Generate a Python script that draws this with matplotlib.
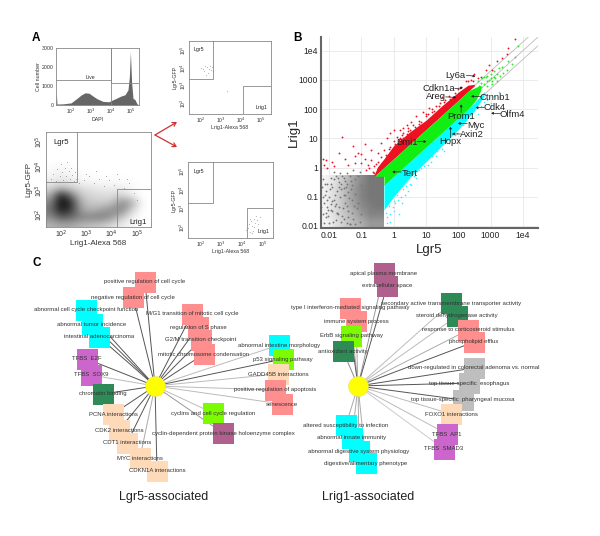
import matplotlib
matplotlib.use('Agg')
import matplotlib.pyplot as plt
from matplotlib.colors import LinearSegmentedColormap

plt.rcParams['font.family'] = ['Liberation Sans', 'DejaVu Sans']

W, H = 600, 536

# panel A histogram
hist_x = [1.25, 1.27, 1.30, 1.6, 2.0, 2.3, 2.5, 2.7, 2.9, 3.1, 3.3, 3.6, 3.9, 4.0, 4.2, 4.5, 4.7, 4.85, 4.92, 4.97, 5.03, 5.1, 5.2, 5.3, 5.4]
hist_y = [600, 500, 50, 60, 110, 350, 520, 640, 620, 470, 330, 190, 170, 230, 320, 470, 540, 800, 1500, 2800, 1200, 350, 280, 60, 0]

# panel A main density, rows bottom to top
dens_x = [1.6, 2.0, 2.4, 2.8, 3.2, 3.6, 4.0, 4.4, 4.8, 5.2]
dens_y = [1.6, 1.9, 2.2, 2.5, 2.8, 3.1, 3.4, 3.7, 4.0, 4.3]
dens = [[.30, .35, .35, .28, .25, .22, .15, .08, .03, 0],
        [.45, .65, .60, .50, .50, .52, .42, .22, .06, 0],
        [.55, .92, .78, .38, .30, .38, .45, .50, .18, 0],
        [.48, 1.0, .85, .30, .22, .20, .24, .45, .36, .01],
        [.32, .90, .55, .22, .17, .14, .14, .18, .07, 0],
        [.16, .28, .20, .13, .10, .08, .07, .07, .03, 0],
        [.07, .10, .08, .04, .03, .02, .02, .02, .01, 0],
        [.03, .07, .03, .01, .01, 0, 0, 0, 0, 0],
        [.01, .03, .01, 0, 0, 0, 0, 0, 0, 0],
        [0, 0, 0, 0, 0, 0, 0, 0, 0, 0]]
dot_x = [1.6, 1.7, 1.8, 1.85, 1.95, 2.0, 2.05, 2.1, 2.15, 2.2, 2.25, 2.3, 2.35, 2.4, 2.45, 2.5, 2.55, 2.6, 2.7, 2.9, 3.1, 3.3, 3.5, 3.7, 3.9, 4.1, 4.3, 4.5, 4.7, 4.9, 3.0, 3.4, 3.8, 4.2, 4.6, 5.0]
dot_y = [3.5, 3.7, 3.4, 3.9, 3.6, 4.1, 3.75, 3.45, 3.95, 3.6, 4.2, 3.8, 3.5, 3.95, 3.65, 3.4, 3.75, 3.5, 3.3, 3.45, 3.6, 3.3, 3.5, 3.2, 3.45, 3.25, 3.5, 3.1, 3.3, 2.9, 3.7, 3.8, 3.6, 3.7, 3.5, 2.6]

# sorted populations
top_x = [2.0, 2.1, 2.15, 2.2, 2.3, 2.35, 2.4, 2.45, 2.5, 2.55, 2.6, 2.25, 3.3]
top_y = [4.0, 3.95, 3.8, 4.1, 4.05, 3.7, 3.9, 4.1, 3.85, 4.05, 3.8, 3.6, 2.7]
bot_x = [4.2, 4.3, 4.35, 4.4, 4.45, 4.5, 4.55, 4.6, 4.65, 4.7, 4.75, 4.8, 4.5, 4.4, 4.6, 4.85]
bot_y = [1.85, 1.95, 2.15, 1.75, 2.3, 2.05, 1.8, 2.4, 2.2, 2.6, 2.35, 2.15, 1.65, 2.45, 2.0, 2.55]

# panel B, log10 values
band_x = [-0.6, -0.3, -0.3, 0, 0.5, 1, 1.5, 2, 2.3, 2.55, 2.7]
green_hi = [-0.3, 0.0, 0.0, 0.3, 0.8, 1.3, 1.8, 2.3, 2.62, 2.75, 2.82]
green_lo = [-0.3, -0.3, -0.6, -0.3, 0.2, 0.7, 1.2, 1.7, 2.0, 2.32, 2.65]
red_x = [-0.62, -0.5, -0.3, 0, 0.5, 1, 1.5, 2, 2.3, 2.5]
red_hi = [-0.3, 0.02, 0.3, 0.75, 1.22, 1.62, 2.12, 2.58, 2.82, 2.85]
red_lo = [-0.3, -0.2, 0.0, 0.3, 0.8, 1.3, 1.8, 2.3, 2.6, 2.8]
cyan_x = [-0.3, 0, 0.5, 1, 1.5, 2, 2.5, 2.8]
cyan_hi = [-0.6, -0.3, 0.2, 0.7, 1.2, 1.7, 2.2, 2.6]
cyan_lo = [-1.45, -1.0, -0.35, 0.2, 0.75, 1.3, 1.95, 2.45]

red_pt_x = [-2.2, -2.15, -2.1, -2.05, -1.9, -1.85, -1.7, -1.6, -1.5, -1.4, -1.25, -1.2, -1.2, -1.1, -1.0, -1.0, -0.9, -0.9, -0.8, -0.7, -0.7, -0.6, -0.5, -0.5, -0.4, -0.4, -0.3, -0.3, -0.2, -0.2, -0.1, -0.1, 0, 0, 0.1, 0.1, 0.2, 0.2, 0.3, 0.3, 0.4, 0.4, 0.5, 0.55, 0.6, 0.7, 0.75, 0.8, 0.9, 1.0, 1.1, 1.2, 1.3, 1.45, 1.55, 1.7, 1.85, 2.0, 2.25, 2.4, 2.5, 2.6, 2.7, 2.85, 2.95, 3.05, 3.2, 3.35, 3.5, 3.55, 3.75,
            -0.85, -0.75, -0.65, -0.55, -0.45, -0.35, -0.25, -0.15, -0.05, 0.05, 0.15, 0.25, 0.35, 0.45, 0.65, 0.85, 1.05, 1.25, 1.4, 1.6, 1.75, 1.9, 2.1, 2.3, 2.45,
            -0.6, -0.5, -0.4, -0.3, -0.2, -0.1, 0, 0.1, 0.2, 0.3, 0.45, 0.6, 0.8, 1.0, 1.2, 1.5]
red_pt_y = [0.3, 0.1, 0.25, 0.0, 0.2, 0.05, 0.5, 1.05, 0.3, 0.1, 0.75, 0.15, 0.4, 0.5, 0.45, 0.15, 0.8, 0.3, 0.1, 0.6, 0.25, 0.05, 0.5, 0.2, 0.85, 0.35, 0.6, 0.1, 1.0, 0.4, 1.2, 0.7, 1.3, 0.9, 1.05, 0.65, 1.3, 0.8, 1.0, 1.35, 1.15, 1.45, 1.3, 1.55, 1.2, 1.75, 1.35, 1.6, 1.9, 1.75, 2.05, 1.9, 2.1, 2.2, 2.25, 2.45, 2.4, 2.7, 2.95, 3.0, 3.2, 3.05, 3.1, 3.35, 3.5, 3.35, 3.65, 3.75, 3.9, 4.1, 4.4,
            -0.1, 0.0, -0.15, 0.12, 0.02, 0.15, 0.42, 0.65, 0.55, 0.8, 0.95, 1.1, 0.95, 1.25, 1.4, 1.55, 1.85, 1.95, 2.1, 2.3, 2.35, 2.55, 2.75, 2.95, 2.98,
            -0.2, -0.05, 0.1, 0.2, 0.3, 0.5, 0.55, 0.75, 1.0, 1.2, 1.35, 1.45, 1.5, 1.85, 2.0, 2.4]

green_pt_x = [2.6, 2.7, 2.75, 2.8, 2.85, 2.9, 2.95, 3.0, 3.05, 3.1, 3.15, 3.2, 3.25, 3.3, 3.35, 3.4, 3.5, 3.55, 3.65, 3.75, 3.85, 2.65, 2.8, 2.9, 3.0, 3.1, 3.2, 2.72, 2.88, 3.03]
green_pt_y = [2.95, 2.75, 3.05, 2.85, 3.1, 2.8, 3.0, 3.2, 2.95, 3.3, 3.05, 3.2, 3.4, 3.15, 3.45, 3.25, 3.35, 3.65, 3.55, 3.8, 4.15, 2.8, 3.1, 3.15, 3.05, 3.1, 2.95, 2.9, 2.95, 2.85]

cyan_pt_x = [-0.2, -0.15, -0.1, -0.05, 0, 0, 0.1, 0.15, 0.2, 0.25, 0.3, 0.35, 0.4, 0.45, 0.5, 0.55, 0.6, 0.7, 0.75, 0.8, 0.9, 0.95, 1.0, 1.1, 1.15, 1.25, 1.3, 1.4, 1.5, 1.6, 1.7, 1.8, 1.9, 2.0, 2.2, 2.5, 2.7, 2.9, 3.0, 3.1, 3.25, 3.3,
             -0.25, -0.2, -0.12, -0.02, 0.05, 0.12, 0.22, 0.28, 0.38, 0.5, 0.62, 0.72, 0.85, 1.05, 1.2, 1.35, 1.55, 1.75, 1.95, 2.15, 2.35, 2.6, 2.8, 3.0]
cyan_pt_y = [-1.7, -1.3, -1.85, -1.05, -1.5, -1.15, -0.95, -1.6, -0.7, -1.2, -0.55, -0.95, -0.4, -0.8, -0.3, -0.6, -0.1, -0.35, 0.1, -0.1, 0.2, 0.05, 0.3, 0.45, 0.2, 0.55, 0.4, 0.75, 0.65, 1.0, 0.85, 1.25, 1.1, 1.4, 1.6, 1.95, 2.1, 2.3, 2.2, 2.45, 2.6, 2.4,
             -1.55, -1.9, -1.6, -1.35, -1.2, -1.1, -1.0, -0.75, -0.62, -0.55, -0.3, -0.12, 0.0, 0.1, 0.4, 0.55, 0.55, 0.95, 1.2, 1.45, 1.7, 1.85, 2.25, 2.1]

gray_pt_x = [-2.2, -2.15, -2.1, -2.1, -2.05, -2.0, -2.0, -1.95, -1.9, -1.9, -1.85, -1.8, -1.8, -1.75, -1.7, -1.7, -1.65, -1.6, -1.6, -1.55, -1.5, -1.5, -1.45, -1.4, -1.4, -1.35, -1.3, -1.3, -1.25, -1.2, -1.2, -1.15, -1.1, -1.1, -1.05, -1.0, -1.0, -1.95, -1.75, -1.55, -1.35, -1.2, -2.18, -2.05, -1.85, -1.65, -1.45, -1.25, -1.05,
             -2.22, -2.12, -2.02, -1.92, -1.82, -1.72, -1.62, -1.52, -1.42, -1.32, -2.2, -2.08, -1.98, -1.88, -1.78, -1.68, -1.58, -1.48, -1.38, -1.28, -2.16, -2.06, -1.94, -1.84, -1.74, -1.64, -1.54, -1.44, -1.34, -2.24, -2.14, -2.03, -1.93, -1.83, -1.73, -1.63, -1.53, -1.43, -1.33, -1.23]
gray_pt_y = [-0.4, -1.2, -0.8, -1.7, -0.55, -1.0, -1.9, -0.35, -0.65, -1.5, -1.1, -0.3, -1.8, -0.8, -0.5, -1.35, -1.0, -0.3, -1.65, -0.7, -0.45, -1.2, -1.9, -0.85, -1.5, -0.3, -0.6, -1.1, -1.75, -0.4, -0.9, -1.4, -0.3, -1.2, -1.85, -0.6, -1.6, -1.45, -1.55, -0.95, -1.95, -1.95, -1.6, -1.35, -0.15, -0.2, -0.2, -0.1, -0.15,
             -0.65, -0.55, -1.45, -1.15, -0.95, -1.6, -0.55, -0.95, -1.7, -0.45, -1.0, -1.55, -0.75, -1.85, -1.25, -0.65, -1.4, -0.65, -1.05, -1.55, -1.9, -1.1, -1.25, -0.4, -1.55, -0.75, -1.75, -1.3, -1.95, -1.35, -0.95, -1.65, -0.55, -1.3, -0.35, -1.85, -0.35, -0.55, -0.75, -1.3]

# grey cloud density, rows bottom to top
cloud_x = [-2.25, -1.8, -1.5, -1.2, -0.9, -0.6, -0.3]
cloud_y = [-2.05, -1.7, -1.35, -1.0, -0.65, -0.3]
cloud = [[.08, .2, .35, .5, .6, .75, .75],
         [.1, .25, .4, .55, .75, .9, .9],
         [.1, .25, .45, .65, .85, .95, 1],
         [.1, .25, .45, .7, .9, 1, 1],
         [.1, .25, .45, .7, .9, 1, 1],
         [.08, .2, .4, .65, .85, 1, 1]]

gene_names = ['Ly6a', 'Cdkn1a', 'Areg', 'Ctnnb1', 'Cdk4', 'Olfm4', 'Prom1', 'Myc', 'Axin2', 'Hopx', 'Bmi1', 'Tert']
gene_x = [2.53, 2.14, 1.94, 2.40, 2.54, 3.02, 2.09, 1.99, 1.81, 1.76, 1.01, -0.04]
gene_y = [3.125, 2.73, 2.40, 2.44, 2.05, 1.86, 2.16, 1.51, 1.15, 1.40, 0.89, -0.15]
tail_x = [2.25, 1.89, 1.61, 2.71, 2.81, 3.31, 2.09, 2.28, 2.07, 1.76, 0.73, 0.24]
tail_y = [3.16, 2.70, 2.42, 2.43, 2.05, 1.85, 1.89, 1.51, 1.15, 1.02, 0.89, -0.15]
name_x = [1.92, 1.40, 1.31, 3.14, 3.14, 3.68, 2.09, 2.54, 2.43, 1.76, 0.42, 0.51]
name_y = [3.15, 2.70, 2.42, 2.40, 2.06, 1.82, 1.74, 1.45, 1.13, 0.88, 0.86, -0.20]
b_ticks = [-2, -1, 0, 1, 2, 3, 4]
b_labels = ['0.01', '0.1', '1', '10', '100', '1000', '1e4']

# panel C
salmon, cyan, violet, dgreen = '#FF8E8E', '#00FFFF', '#CC66CC', '#2E8B57'
peach, lime, mauve, grey = '#FFDAB9', '#7CFC00', '#B0608C', '#BEBEBE'

left_names = ['positive regulation of cell cycle', 'negative regulation of cell cycle', 'abnormal cell cycle checkpoint function', 'abnormal tumor incidence', 'intestinal adenocarcinoma',
              'M/G1 transition of mitotic cell cycle', 'regulation of S phase', 'G2/M transition checkpoint', 'mitotic chromosome condensation',
              'TFBS  E2F', 'TFBS  SOX9', 'chromatin binding', 'PCNA interactions', 'CDK2 interactions', 'CDT1 interactions', 'MYC interactions', 'CDKN1A interactions',
              'abnormal intestine morphology', 'p53 signaling pathway', 'GADD45B interactions', 'positive regulation of apoptosis', 'senescence',
              'cyclins and cell cycle regulation', 'cyclin-dependent protein kinase holoenzyme complex']
left_x = [145, 133, 86, 92, 99, 192, 198, 201, 204, 87, 91, 103, 113, 119, 127, 140, 157, 279, 283, 278, 275, 282, 213, 223]
left_y = [282, 297, 310, 324, 337, 314, 327, 340, 354, 359, 375, 394, 414, 430, 443, 458, 471, 345, 359, 374, 390, 404, 413, 433]
left_color = [salmon, salmon, cyan, cyan, cyan, salmon, salmon, salmon, salmon, violet, violet, dgreen, peach, peach, peach, peach, peach, cyan, lime, peach, salmon, salmon, lime, mauve]
left_edge = ['#555555', '#555555', '#555555', '#555555', '#555555', '#555555', '#555555', '#555555', '#555555', '#555555', '#BBBBBB', '#555555', '#555555', '#555555', '#555555', '#AAAAAA', '#555555',
             '#BBBBBB', '#555555', '#BBBBBB', '#BBBBBB', '#BBBBBB', '#BBBBBB', '#999999']

right_names = ['apical plasma membrane', 'extracellular space', 'secondary active transmembrane transporter activity', 'steroid dehydrogenase activity', 'response to corticosteroid stimulus', 'phospholipid efflux',
               'type I interferon-mediated signaling pathway', 'immune system process', 'ErbB signaling pathway', 'antioxidant activity',
               'down-regulated in colorectal adenoma vs. normal', 'top tissue-specific  esophagus', 'top tissue-specific  pharyngeal mucosa', 'FOXO1 interactions', 'TFBS  AP1', 'TFBS  SMAD3',
               'altered susceptibility to infection', 'abnormal innate immunity', 'abnormal digestive system physiology', 'digestive/alimentary phenotype']
right_x = [384, 387, 451, 457, 468, 474, 350, 356, 351, 343, 474, 469, 463, 451, 447, 444, 346, 352, 359, 366]
right_y = [273, 286, 303, 316, 330, 342, 308, 321, 336, 351, 368, 383, 400, 414, 434, 449, 425, 438, 451, 463]
right_color = [mauve, mauve, dgreen, dgreen, salmon, salmon, salmon, salmon, lime, dgreen, grey, grey, grey, peach, violet, violet, cyan, cyan, cyan, cyan]
right_edge = ['#999999', '#555555', '#BBBBBB', '#BBBBBB', '#AAAAAA', '#555555', '#AAAAAA', '#AAAAAA', '#555555', '#888888', '#555555', '#555555', '#555555', '#BBBBBB', '#BBBBBB', '#CCCCCC', '#AAAAAA', '#AAAAAA', '#AAAAAA', '#AAAAAA']

hub_x = [155, 358]
hub_y = [386, 386]


def ax_px(x0, y0, x1, y1):
    return fig.add_axes([x0 / W, 1 - y1 / H, (x1 - x0) / W, (y1 - y0) / H])


def facs_frame(ax, xlim, ylim, size, lab, ypad):
    ax.set_xlim(*xlim)
    ax.set_ylim(*ylim)
    for s in ax.spines.values():
        s.set_color('#888888')
        s.set_linewidth(0.6)
    ax.set_xticks([2, 3, 4, 5])
    ax.set_xticklabels(['10$^2$', '10$^3$', '10$^4$', '10$^5$'], fontsize=size, color='#333333')
    ax.set_yticks([2, 3, 4, 5])
    ax.set_yticklabels(['10$^2$', '10$^3$', '10$^4$', '10$^5$'], fontsize=size, color='#333333', rotation=90, va='center')
    ax.tick_params(length=0, pad=1)
    ax.set_xlabel('Lrig1-Alexa 568', fontsize=lab, labelpad=0, color='#333333')
    ax.set_ylabel('Lgr5-GFP', fontsize=lab, labelpad=ypad, color='#333333')


def gates(ax, gx, gy, rx, ry, xlim, ylim):
    ax.plot([xlim[0], gx, gx], [gy, gy, ylim[1]], color='#888888', lw=0.6)
    ax.plot([rx, rx, xlim[1]], [ylim[0], ry, ry], color='#888888', lw=0.6)


fig = plt.figure(figsize=(W / 100, H / 100), dpi=100)

# histogram
ax = ax_px(56, 48, 139, 105)
ax.fill_between(hist_x, hist_y, color='#666666', lw=0)
ax.set_xlim(1.25, 5.4)
ax.set_ylim(0, 3000)
for s in ax.spines.values():
    s.set_color('#888888')
    s.set_linewidth(0.6)
ax.set_xticks([2, 3, 4, 5])
ax.set_xticklabels(['10$^2$', '10$^3$', '10$^4$', '10$^5$'], fontsize=3.6, color='#333333')
ax.set_yticks([0, 1000, 2000, 3000])
ax.set_yticklabels(['0', '1000', '2000', '3000'], fontsize=3.8, color='#333333')
ax.tick_params(length=0, pad=1.5)
ax.set_xlabel('DAPI', fontsize=3.8, labelpad=0.5, color='#333333')
ax.set_ylabel('Cell number', fontsize=3.8, labelpad=1, color='#333333')
ax.plot([1.25, 4.0, 4.0, 4.0, 5.4], [1316, 1316, 3000, 1158, 1158], color='#888888', lw=0.6)
ax.plot([4.0, 4.0], [0, 3000], color='#888888', lw=0.6)
ax.text(2.98, 1340, 'Live', fontsize=3.8, ha='center', va='bottom', color='#333333')

# main sort plot
xl, yl = (1.41, 5.56), (1.5, 5.42)
ax = ax_px(46, 132, 151, 227)
ax.imshow(dens, origin='lower', cmap='gray_r', vmin=0, vmax=1.02, interpolation='bicubic', aspect='auto',
          extent=[dens_x[0] - 0.2, dens_x[-1] + 0.2, dens_y[0] - 0.15, dens_y[-1] + 0.15])
ax.scatter(dot_x, dot_y, s=0.4, color='#999999', linewidths=0)
facs_frame(ax, xl, yl, 5, 5.8, 0.5)
gates(ax, 2.63, 3.36, 4.2, 3.07, xl, yl)
ax.text(1.7, 5.0, 'Lgr5', fontsize=5.6, va='center', color='#222222')
ax.text(5.4, 1.7, 'Lrig1', fontsize=5.6, ha='right', va='center', color='#222222')

# sorted Lgr5
xl, yl = (1.4, 5.5), (1.4, 5.5)
ax = ax_px(189, 41, 271, 114)
ax.scatter(top_x, top_y, s=0.8, color='#BBBBBB', linewidths=0)
facs_frame(ax, xl, yl, 3.6, 3.8, 0.5)
gates(ax, 2.6, 3.35, 4.1, 3.0, xl, yl)
ax.text(1.65, 5.0, 'Lgr5', fontsize=3.8, va='center', color='#222222')
ax.text(5.3, 1.75, 'Lrig1', fontsize=3.8, ha='right', va='center', color='#222222')

# sorted Lrig1
ax = ax_px(188, 162, 273, 238)
ax.scatter(bot_x, bot_y, s=0.8, color='#BBBBBB', linewidths=0)
facs_frame(ax, xl, yl, 3.6, 3.8, 0.5)
gates(ax, 2.6, 3.3, 4.25, 3.0, xl, yl)
ax.text(1.65, 5.0, 'Lgr5', fontsize=3.8, va='center', color='#222222')
ax.text(5.35, 1.75, 'Lrig1', fontsize=3.8, ha='right', va='center', color='#222222')

# panel B
ax = ax_px(321, 37, 538, 228)
ax.grid(True, color='#E8E8E8', lw=0.6)
ax.set_axisbelow(True)
for off in [0.3, 0, -0.3]:
    ax.plot([-0.5, 4.47], [-0.5 + off, 4.47 + off], color='#BBBBBB', lw=0.6, zorder=1)
grey_map = LinearSegmentedColormap.from_list('cloud', ['#FFFFFF', '#777777'])
ax.imshow(cloud, origin='lower', cmap=grey_map, vmin=0, vmax=1, interpolation='bilinear', aspect='auto', zorder=2,
          extent=[cloud_x[0], cloud_x[-1], cloud_y[0], cloud_y[-1]])
ax.scatter(gray_pt_x, gray_pt_y, s=1.8, color='#777777', linewidths=0, zorder=2)
ax.fill_between(cyan_x, cyan_lo, cyan_hi, color='#00FFFF', lw=0, zorder=2)
ax.scatter(cyan_pt_x, cyan_pt_y, s=1.4, color='#33EEFF', linewidths=0, zorder=2)
ax.fill_between(red_x, red_lo, red_hi, color='#EE1122', lw=0, zorder=2)
ax.scatter(red_pt_x, red_pt_y, s=1.8, color='#EE1122', linewidths=0, zorder=3)
ax.scatter(green_pt_x, green_pt_y, s=1.8, color='#22EE22', linewidths=0, zorder=3)
ax.fill_between(band_x, green_lo, green_hi, color='#11EE11', lw=0, zorder=4)
for i in range(len(gene_names)):
    ax.annotate('', xy=(gene_x[i], gene_y[i]), xytext=(tail_x[i], tail_y[i]), zorder=6,
                arrowprops=dict(arrowstyle='-|>,head_length=0.12,head_width=0.07', color='#222222', lw=0.5, shrinkA=0, shrinkB=0))
    ax.text(name_x[i], name_y[i], gene_names[i], fontsize=6.8, ha='center', va='center', color='#222222', zorder=6)
ax.set_xlim(-2.25, 4.47)
ax.set_ylim(-2.07, 4.47)
for s in ['top', 'right']:
    ax.spines[s].set_visible(False)
for s in ['left', 'bottom']:
    ax.spines[s].set_color('#666666')
    ax.spines[s].set_linewidth(1.5)
ax.set_xticks(b_ticks)
ax.set_xticklabels(b_labels, fontsize=6.2, color='#222222')
ax.set_yticks(b_ticks)
ax.set_yticklabels(b_labels, fontsize=6.2, color='#222222')
ax.tick_params(length=0, pad=2)
ax.set_xlabel('Lgr5', fontsize=9.5, labelpad=3, color='#222222')
ax.set_ylabel('Lrig1', fontsize=9.5, labelpad=-1, color='#222222')

# overlay in pixels for panel C, arrows and letters
ov = fig.add_axes([0, 0, 1, 1], facecolor='none')
ov.set_xlim(0, W)
ov.set_ylim(H, 0)
ov.axis('off')

for hx, hy, xs, ys, eds in [(hub_x[0], hub_y[0], left_x, left_y, left_edge), (hub_x[1], hub_y[1], right_x, right_y, right_edge)]:
    for i in range(len(xs)):
        ov.plot([hx, xs[i]], [hy, ys[i]], color=eds[i], lw=0.7, zorder=1)
for xs, ys, cols in [(left_x, left_y, left_color), (right_x, right_y, right_color)]:
    ov.scatter(xs, ys, s=(21 * 0.72) ** 2, marker='s', c=cols, linewidths=0, zorder=2)
ov.scatter(hub_x, hub_y, s=(20 * 0.72) ** 2, color='#FFFF00', edgecolors='#DDDD66', linewidths=0.3, zorder=3)
for xs, ys, names in [(left_x, left_y, left_names), (right_x, right_y, right_names)]:
    for i in range(len(xs)):
        ov.text(xs[i], ys[i], names[i], fontsize=4.35, ha='center', va='center', color='#333333', zorder=4)

ov.text(164, 497, 'Lgr5-associated', fontsize=9, ha='center', va='center', color='#222222')
ov.text(368, 497, 'Lrig1-associated', fontsize=9, ha='center', va='center', color='#222222')
ov.text(36, 38, 'A', fontsize=8.5, fontweight='bold', ha='center', va='center')
ov.text(297, 38, 'B', fontsize=8.5, fontweight='bold', ha='center', va='center')
ov.text(37, 263, 'C', fontsize=8.5, fontweight='bold', ha='center', va='center')

for tx, ty in [(177, 122), (177, 147)]:
    ov.annotate('', xy=(tx, ty), xytext=(155, 135), arrowprops=dict(arrowstyle='->,head_length=0.25,head_width=0.15', color='#D03030', lw=0.9, shrinkA=0, shrinkB=0))

fig.savefig('out.png', dpi=100)
